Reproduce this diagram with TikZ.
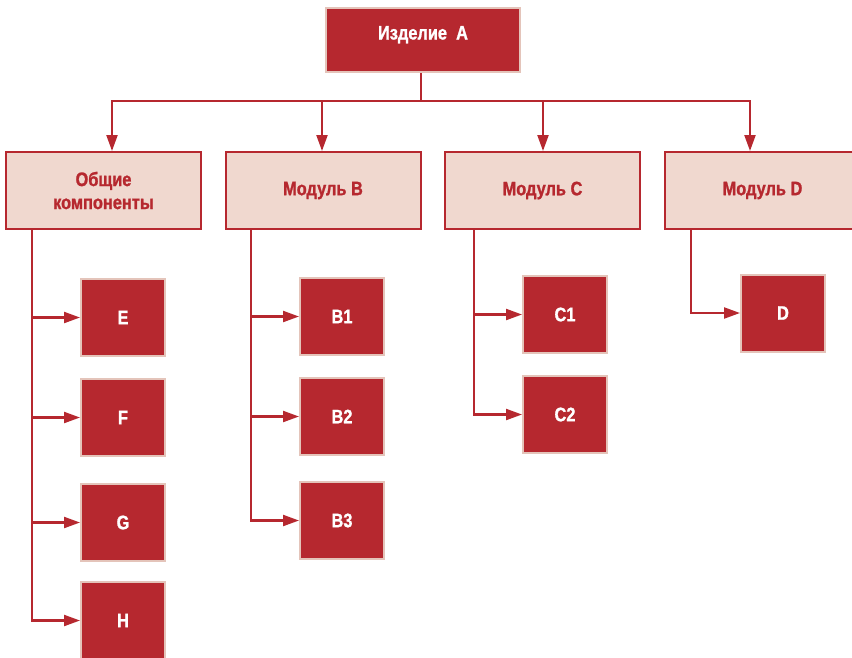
\documentclass[tikz,border=0pt]{standalone}
\usepackage{fontspec}
\setmainfont{Liberation Sans}[FakeStretch=0.84,BoldFeatures={FakeBold=1.2}]
\usetikzlibrary{arrows.meta,positioning}
\definecolor{brick}{RGB}{182,40,47}
\definecolor{blush}{RGB}{240,216,207}
\definecolor{rim}{RGB}{228,196,186}

\begin{document}
\begin{tikzpicture}[x=1pt,y=-1pt,
  font=\bfseries\fontsize{19.5}{23}\selectfont,
  head/.style={draw=rim,fill=brick,line width=2pt,text=white,
               minimum width=194pt,minimum height=64pt,align=center,
               text height=15pt,text depth=16pt},
  module/.style={draw=brick,fill=blush,line width=2pt,text=brick,
                 minimum width=195pt,minimum height=77pt,align=center},
  part/.style={draw=rim,fill=brick,line width=2pt,text=white,
               minimum width=84pt,minimum height=77pt},
  link/.style={draw=brick,line width=2.2pt},
  arr/.style={link,-{Triangle[length=16pt,width=11pt]}}]
\useasboundingbox (0,0) rectangle (852,657);

% ---- top ----
\node[head] (prod) at (423,40) {Изделие\ \ A};
\coordinate (bus) at (421,101);

% ---- modules ----
\node[module] (common) at (103.5,190.5) {Общие\\компоненты};
\node[module] (modB) at (323,190.5) {Модуль B};
\node[module] (modC) at (542.5,190.5) {Модуль C};
\node[module] (modD) at (762.5,190.5) {Модуль D};
\draw[link] (prod.south -| bus) -- (bus);
\draw[arr] (bus) -| ([xshift=8.5pt]common.north);
\draw[arr] (bus) -| ([xshift=-1pt]modB.north);
\draw[arr] (bus) -| ([xshift=0.5pt]modC.north);
\draw[arr] (bus) -| ([xshift=-12.5pt]modD.north);

% ---- parts ----
\node[part] (E) at (123,317.5) {E};
\node[part,below=21pt of E] (F) {F};
\node[part,below=26pt of F] (G) {G};
\node[part,below=19pt of G] (H) {H};
\node[part] (B1) at (342,316.5) {B1};
\node[part,below=21pt of B1] (B2) {B2};
\node[part,below=25pt of B2] (B3) {B3};
\node[part] (C1) at (565,314.5) {C1};
\node[part,below=21pt of C1] (C2) {C2};
\node[part] (D) at (783,313) {D};

\foreach \p in {E,F,G,H}
  \draw[arr] ([xshift=-71.5pt]common.south) |- (\p.west);
\foreach \p in {B1,B2,B3}
  \draw[arr] ([xshift=-72pt]modB.south) |- (\p.west);
\foreach \p in {C1,C2}
  \draw[arr] ([xshift=-68.5pt]modC.south) |- (\p.west);
\draw[arr] ([xshift=-71.5pt]modD.south) |- (D.west);
\end{tikzpicture}
\end{document}
